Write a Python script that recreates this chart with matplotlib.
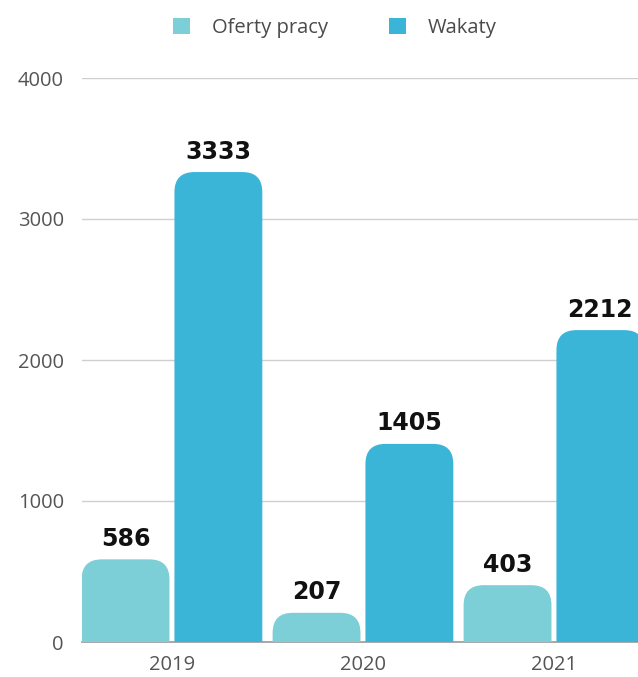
import numpy as np
import matplotlib
matplotlib.use('Agg')
import matplotlib.pyplot as plt
from matplotlib.patches import FancyBboxPatch, Patch

# data
years = ['2019', '2020', '2021']
oferty = [586, 207, 403]
wakaty = [3333, 1405, 2212]
series_names = ['Oferty pracy', 'Wakaty']

c_light = '#7dcfd7'
c_dark = '#3bb5d7'

W, H = 638, 677
fig = plt.figure(figsize=(W / 100, H / 100), dpi=100)
ax = fig.add_axes([82 / W, 35 / H, 1 - 82 / W, (642 - 78) / H])

x = np.arange(len(years))
bw = 0.46
off = 0.243
ax.set_xlim(-0.471, 2.44)
ax.set_ylim(0, 4000)

# pixel -> data scale for rounding corners
px_x = (2.44 + 0.471) / (W - 82)
px_y = 4000 / (642 - 78)
r_px = 20
rx = r_px * px_x
ry = r_px * px_y


def rounded_bar(xc, val, color):
    # box extends below zero so only the top corners show rounded
    p = FancyBboxPatch((xc - bw / 2, -ry * 2), bw, val + ry * 2,
                       boxstyle=f'round,pad=0,rounding_size={rx}',
                       mutation_aspect=ry / rx,
                       facecolor=color, edgecolor='none', zorder=3)
    ax.add_patch(p)


lab_kw = dict(ha='center', va='baseline', fontsize=17, fontweight='bold',
              family='DejaVu Sans', color='#111111', zorder=4, clip_on=False)
for i in range(len(years)):
    rounded_bar(x[i] - off, oferty[i], c_light)
    rounded_bar(x[i] + off, wakaty[i], c_dark)
    ax.text(x[i] - off, oferty[i] + 95, str(oferty[i]), **lab_kw)
    ax.text(x[i] + off, wakaty[i] + 95, str(wakaty[i]), **lab_kw)

ax.set_yticks([0, 1000, 2000, 3000, 4000])
ax.yaxis.grid(True, color='#cfcfcf', linewidth=1)
ax.set_axisbelow(True)
for s in ['top', 'right', 'left']:
    ax.spines[s].set_visible(False)
ax.spines['bottom'].set_color('#9a9a9a')
ax.spines['bottom'].set_linewidth(1.2)
ax.tick_params(axis='both', length=0, labelsize=14.5, labelcolor='#555555')
ax.tick_params(axis='y', pad=13)
ax.tick_params(axis='x', pad=9)
ax.set_xticks(x)
ax.set_xticklabels(years)
for lbl in ax.get_xticklabels() + ax.get_yticklabels():
    lbl.set_family('Open Sans')

handles = [Patch(facecolor=c_light), Patch(facecolor=c_dark)]
fig.legend(handles, series_names, loc='center', bbox_to_anchor=(335 / W, 1 - 28 / H),
           ncol=2, frameon=False, prop={'family': 'Open Sans', 'size': 14.5},
           labelcolor='#4a4a4a', handlelength=0.85, handleheight=0.85,
           columnspacing=3.0, handletextpad=1.1)

fig.savefig('out.png', dpi=100, facecolor='white')
